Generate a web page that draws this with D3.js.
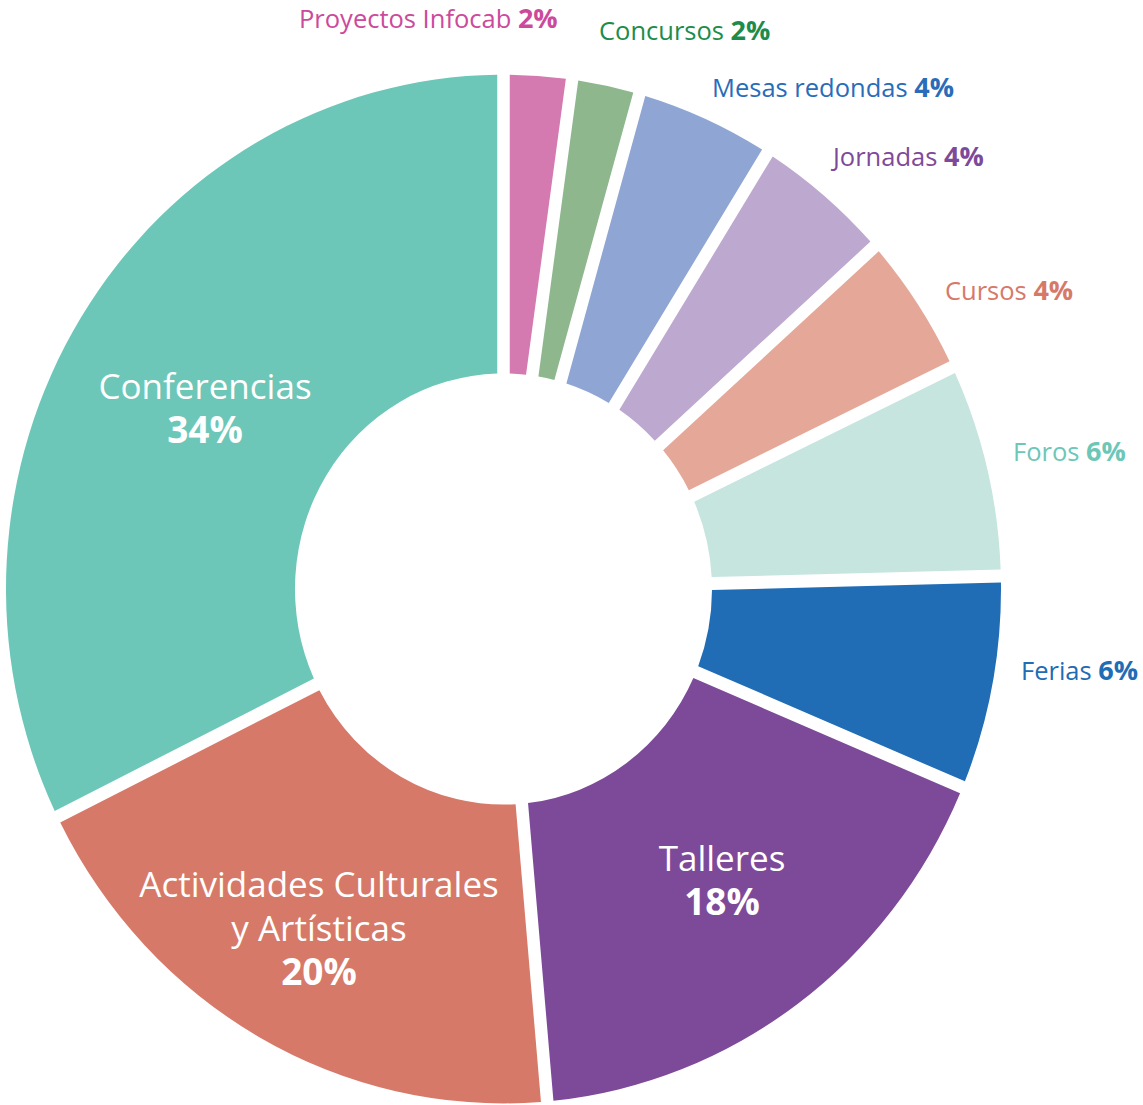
<!DOCTYPE html>
<html>
<head>
<meta charset="utf-8">
<script src="https://cdnjs.cloudflare.com/ajax/libs/d3/7.8.5/d3.min.js"></script>
<style>
  body { margin: 0; background: #fff; }
  text { font-family: "Open Sans", sans-serif; }
</style>
</head>
<body>
<div id="chart"></div>
<script>
// categories, clockwise from 12 o'clock
var categories = ["Proyectos Infocab", "Concursos", "Mesas redondas", "Jornadas", "Cursos",
                  "Foros", "Ferias", "Talleres", "Actividades Culturales y Artísticas", "Conferencias"];
// share of the circle
var values = [2.2, 2.2, 4.5, 4.5, 4.5, 6.7, 6.7, 17.3, 19.1, 32.3];
// printed percent labels
var pctLabels = ["2%", "2%", "4%", "4%", "4%", "6%", "6%", "18%", "20%", "34%"];

var fills = ["#d57ab0", "#8fb78e", "#8fa5d4", "#bda8cf", "#e5a898",
             "#c5e5de", "#206cb5", "#7d4a9a", "#d77968", "#6cc7b8"];
var labelColors = ["#cc4a9c", "#1d8c4b", "#2a6cb8", "#7d4a9a", "#d77968",
                   "#6cc7b8", "#206cb5", "#fff", "#fff", "#fff"];

var width = 1143, height = 1105;
var cx = 503.5, cy = 589, outerR = 497.5, innerR = 208.5, sy = 1.034;

var svg = d3.select("#chart")
  .append("svg")
    .attr("width", width)
    .attr("height", height);

var pie = d3.pie().sort(null).value(d => d);
var arcs = pie(values);

var arc = d3.arc()
  .innerRadius(innerR)
  .outerRadius(outerR)
  .padRadius(outerR)
  .padAngle(12.5 / outerR);

svg.append("g")
    .attr("transform", "translate(" + cx + "," + cy + ") scale(1," + sy + ")")
  .selectAll("path")
  .data(arcs)
  .enter()
  .append("path")
    .attr("d", arc)
    .style("fill", (d, i) => fills[i]);

// outside labels (small slices): left x, baseline y
var outside = [[299, 28], [599, 40], [712, 97], [833, 166], [945, 300], [1013, 461], [1021, 680]];

var g = svg.append("g");
outside.forEach(function(p, i) {
  var t = g.append("text")
    .attr("x", p[0])
    .attr("y", p[1])
    .style("font-size", "25.5px")
    .style("fill", labelColors[i]);
  t.append("tspan").text(categories[i] + " ");
  t.append("tspan").style("font-weight", 700).style("font-size", "27px").text(pctLabels[i]);
});

// inside labels for the big slices
var inside = [
  {i: 7, x: 722, y: 871, lines: ["Talleres"]},
  {i: 8, x: 319, y: 897, lines: ["Actividades Culturales", "y Artísticas"]},
  {i: 9, x: 205, y: 399, lines: ["Conferencias"]}
];
inside.forEach(function(d) {
  var t = g.append("text")
    .attr("text-anchor", "middle")
    .style("font-size", "35px")
    .style("fill", labelColors[d.i]);
  d.lines.forEach(function(l, k) {
    t.append("tspan").attr("x", d.x).attr("y", d.y + k * 44).text(l);
  });
  t.append("tspan")
    .attr("x", d.x)
    .attr("y", d.y + d.lines.length * 44)
    .style("font-weight", 700)
    .style("font-size", "37px")
    .text(pctLabels[d.i]);
});
</script>
</body>
</html>
